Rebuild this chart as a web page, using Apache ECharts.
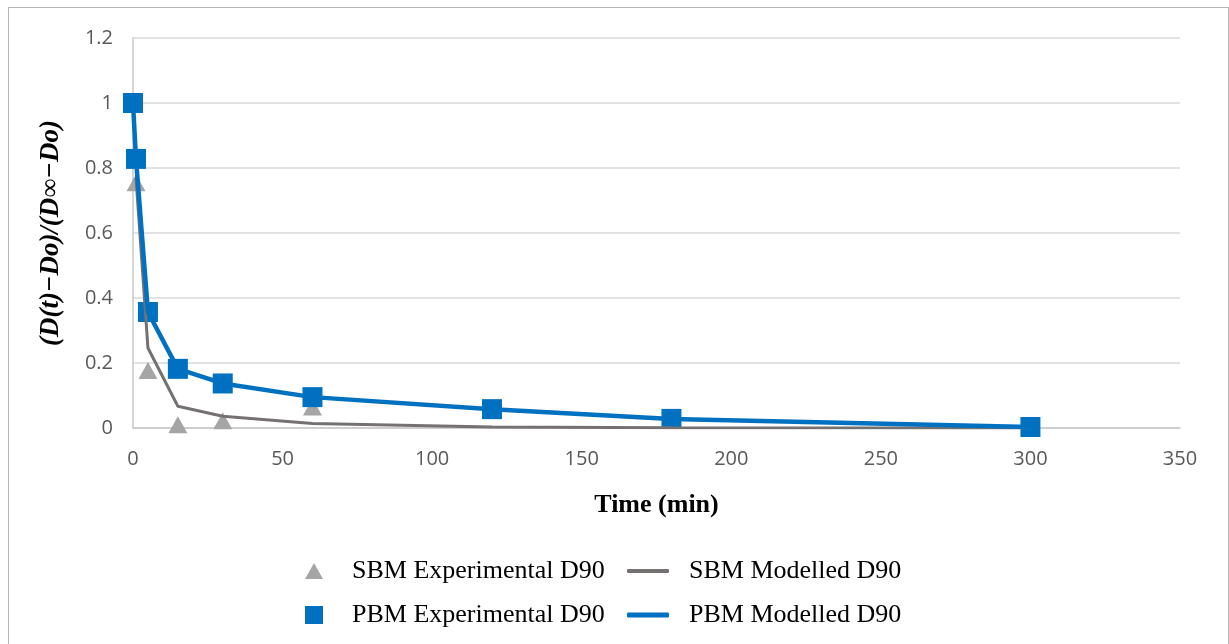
<!DOCTYPE html>
<html>
<head>
<meta charset="utf-8">
<script src="https://cdn.jsdelivr.net/npm/echarts@6/dist/echarts.min.js"></script>
<style>
  body { margin: 0; background: #fff; }
  #frame {
    position: absolute; left: 8px; top: 7px; width: 1219px; height: 700px;
    border: 1px solid #b4b4b4;
  }
  #chart { position: absolute; left: 0; top: 0; width: 1229px; height: 644px; }
</style>
</head>
<body>
<div id="frame"></div>
<div id="chart"></div>
<script>
// values
const pbmTime = [0, 1, 5, 15, 30, 60, 120, 180, 300]
const pbmExperimental = [1, 0.828, 0.357, 0.182, 0.137, 0.095, 0.058, 0.028, 0.003]
const pbmModelled = [1, 0.828, 0.357, 0.182, 0.137, 0.095, 0.058, 0.028, 0.003]

const sbmExpTime = [1, 5, 15, 30, 60]
const sbmExperimental = [0.755, 0.177, 0.01, 0.022, 0.065]

const sbmModTime = [1, 5, 15, 30, 60, 120, 180, 300]
const sbmModelled = [0.77, 0.246, 0.067, 0.036, 0.014, 0.003, 0.001, 0.0]

const xTicks = { min: 0, max: 350, step: 50 }
const yTicks = { min: 0, max: 1.2, step: 0.2 }

const pairs = (xs, ys) => xs.map((x, i) => [x, ys[i]])

const BLUE = '#0070c0'
const GREY_PT = '#a5a5a5'
const GREY_LN = '#767171'

const chart = echarts.init(document.getElementById('chart'))

const legendText = { fontFamily: 'Liberation Serif', fontSize: 26, color: '#000' }

chart.setOption({
  animation: false,
  grid: { left: 133, right: 49, top: 38, bottom: 216 },
  legend: [
    {
      data: ['SBM Experimental D90'], left: 300, top: 553,
      itemWidth: 18, itemHeight: 16,
      itemStyle: { opacity: 1 },
      textStyle: Object.assign({ padding: [0, 0, 0, 24] }, legendText)
    },
    {
      data: [{ name: 'SBM Modelled D90', icon: 'roundRect' }], left: 622, top: 553,
      itemWidth: 42, itemHeight: 4,
      itemStyle: { color: GREY_LN },
      textStyle: Object.assign({ padding: [0, 0, 0, 15] }, legendText)
    },
    {
      data: ['PBM Experimental D90'], left: 300, top: 597,
      itemWidth: 18, itemHeight: 18,
      itemStyle: { opacity: 1 },
      textStyle: Object.assign({ padding: [0, 0, 0, 24] }, legendText)
    },
    {
      data: [{ name: 'PBM Modelled D90', icon: 'roundRect' }], left: 622, top: 597,
      itemWidth: 42, itemHeight: 5,
      itemStyle: { color: BLUE },
      textStyle: Object.assign({ padding: [0, 0, 0, 15] }, legendText)
    }
  ],
  xAxis: {
    type: 'value',
    min: xTicks.min, max: xTicks.max, interval: xTicks.step,
    name: 'Time (min)',
    nameLocation: 'middle',
    nameGap: 64,
    nameTextStyle: { fontFamily: 'Liberation Serif', fontWeight: 'bold', fontSize: 26, color: '#000' },
    axisLine: { lineStyle: { color: '#c8c8c8', width: 1.5 } },
    axisTick: { show: false },
    axisLabel: { fontFamily: 'Open Sans', fontSize: 20, color: '#595959', margin: 21 },
    splitLine: { show: false }
  },
  yAxis: {
    type: 'value',
    min: yTicks.min, max: yTicks.max, interval: yTicks.step,
    name: '(D(t)\u2212Do)/(D\u221e\u2212Do)',
    nameLocation: 'middle',
    nameGap: 68,
    nameTextStyle: { fontFamily: 'Liberation Serif', fontWeight: 'bold', fontStyle: 'italic', fontSize: 27, color: '#000' },
    axisLine: { show: true, lineStyle: { color: '#c8c8c8', width: 1.5 } },
    axisTick: { show: false },
    axisLabel: { fontFamily: 'Open Sans', fontSize: 20, color: '#595959', margin: 20 },
    splitLine: { lineStyle: { color: '#d9d9d9', width: 1.5 } }
  },
  series: [
    {
      name: 'SBM Experimental D90',
      type: 'scatter',
      symbol: 'triangle',
      symbolSize: [19, 17],
      itemStyle: { color: GREY_PT, opacity: 1 },
      data: pairs(sbmExpTime, sbmExperimental)
    },
    {
      name: 'SBM Modelled D90',
      type: 'line',
      symbol: 'none',
      lineStyle: { color: GREY_LN, width: 3 },
      itemStyle: { color: GREY_LN },
      data: pairs(sbmModTime, sbmModelled)
    },
    {
      name: 'PBM Experimental D90',
      type: 'scatter',
      symbol: 'rect',
      symbolSize: 20,
      itemStyle: { color: BLUE, opacity: 1 },
      data: pairs(pbmTime, pbmExperimental)
    },
    {
      name: 'PBM Modelled D90',
      type: 'line',
      symbol: 'none',
      lineStyle: { color: BLUE, width: 4.5 },
      itemStyle: { color: BLUE },
      data: pairs(pbmTime, pbmModelled)
    }
  ]
})
</script>
</body>
</html>
